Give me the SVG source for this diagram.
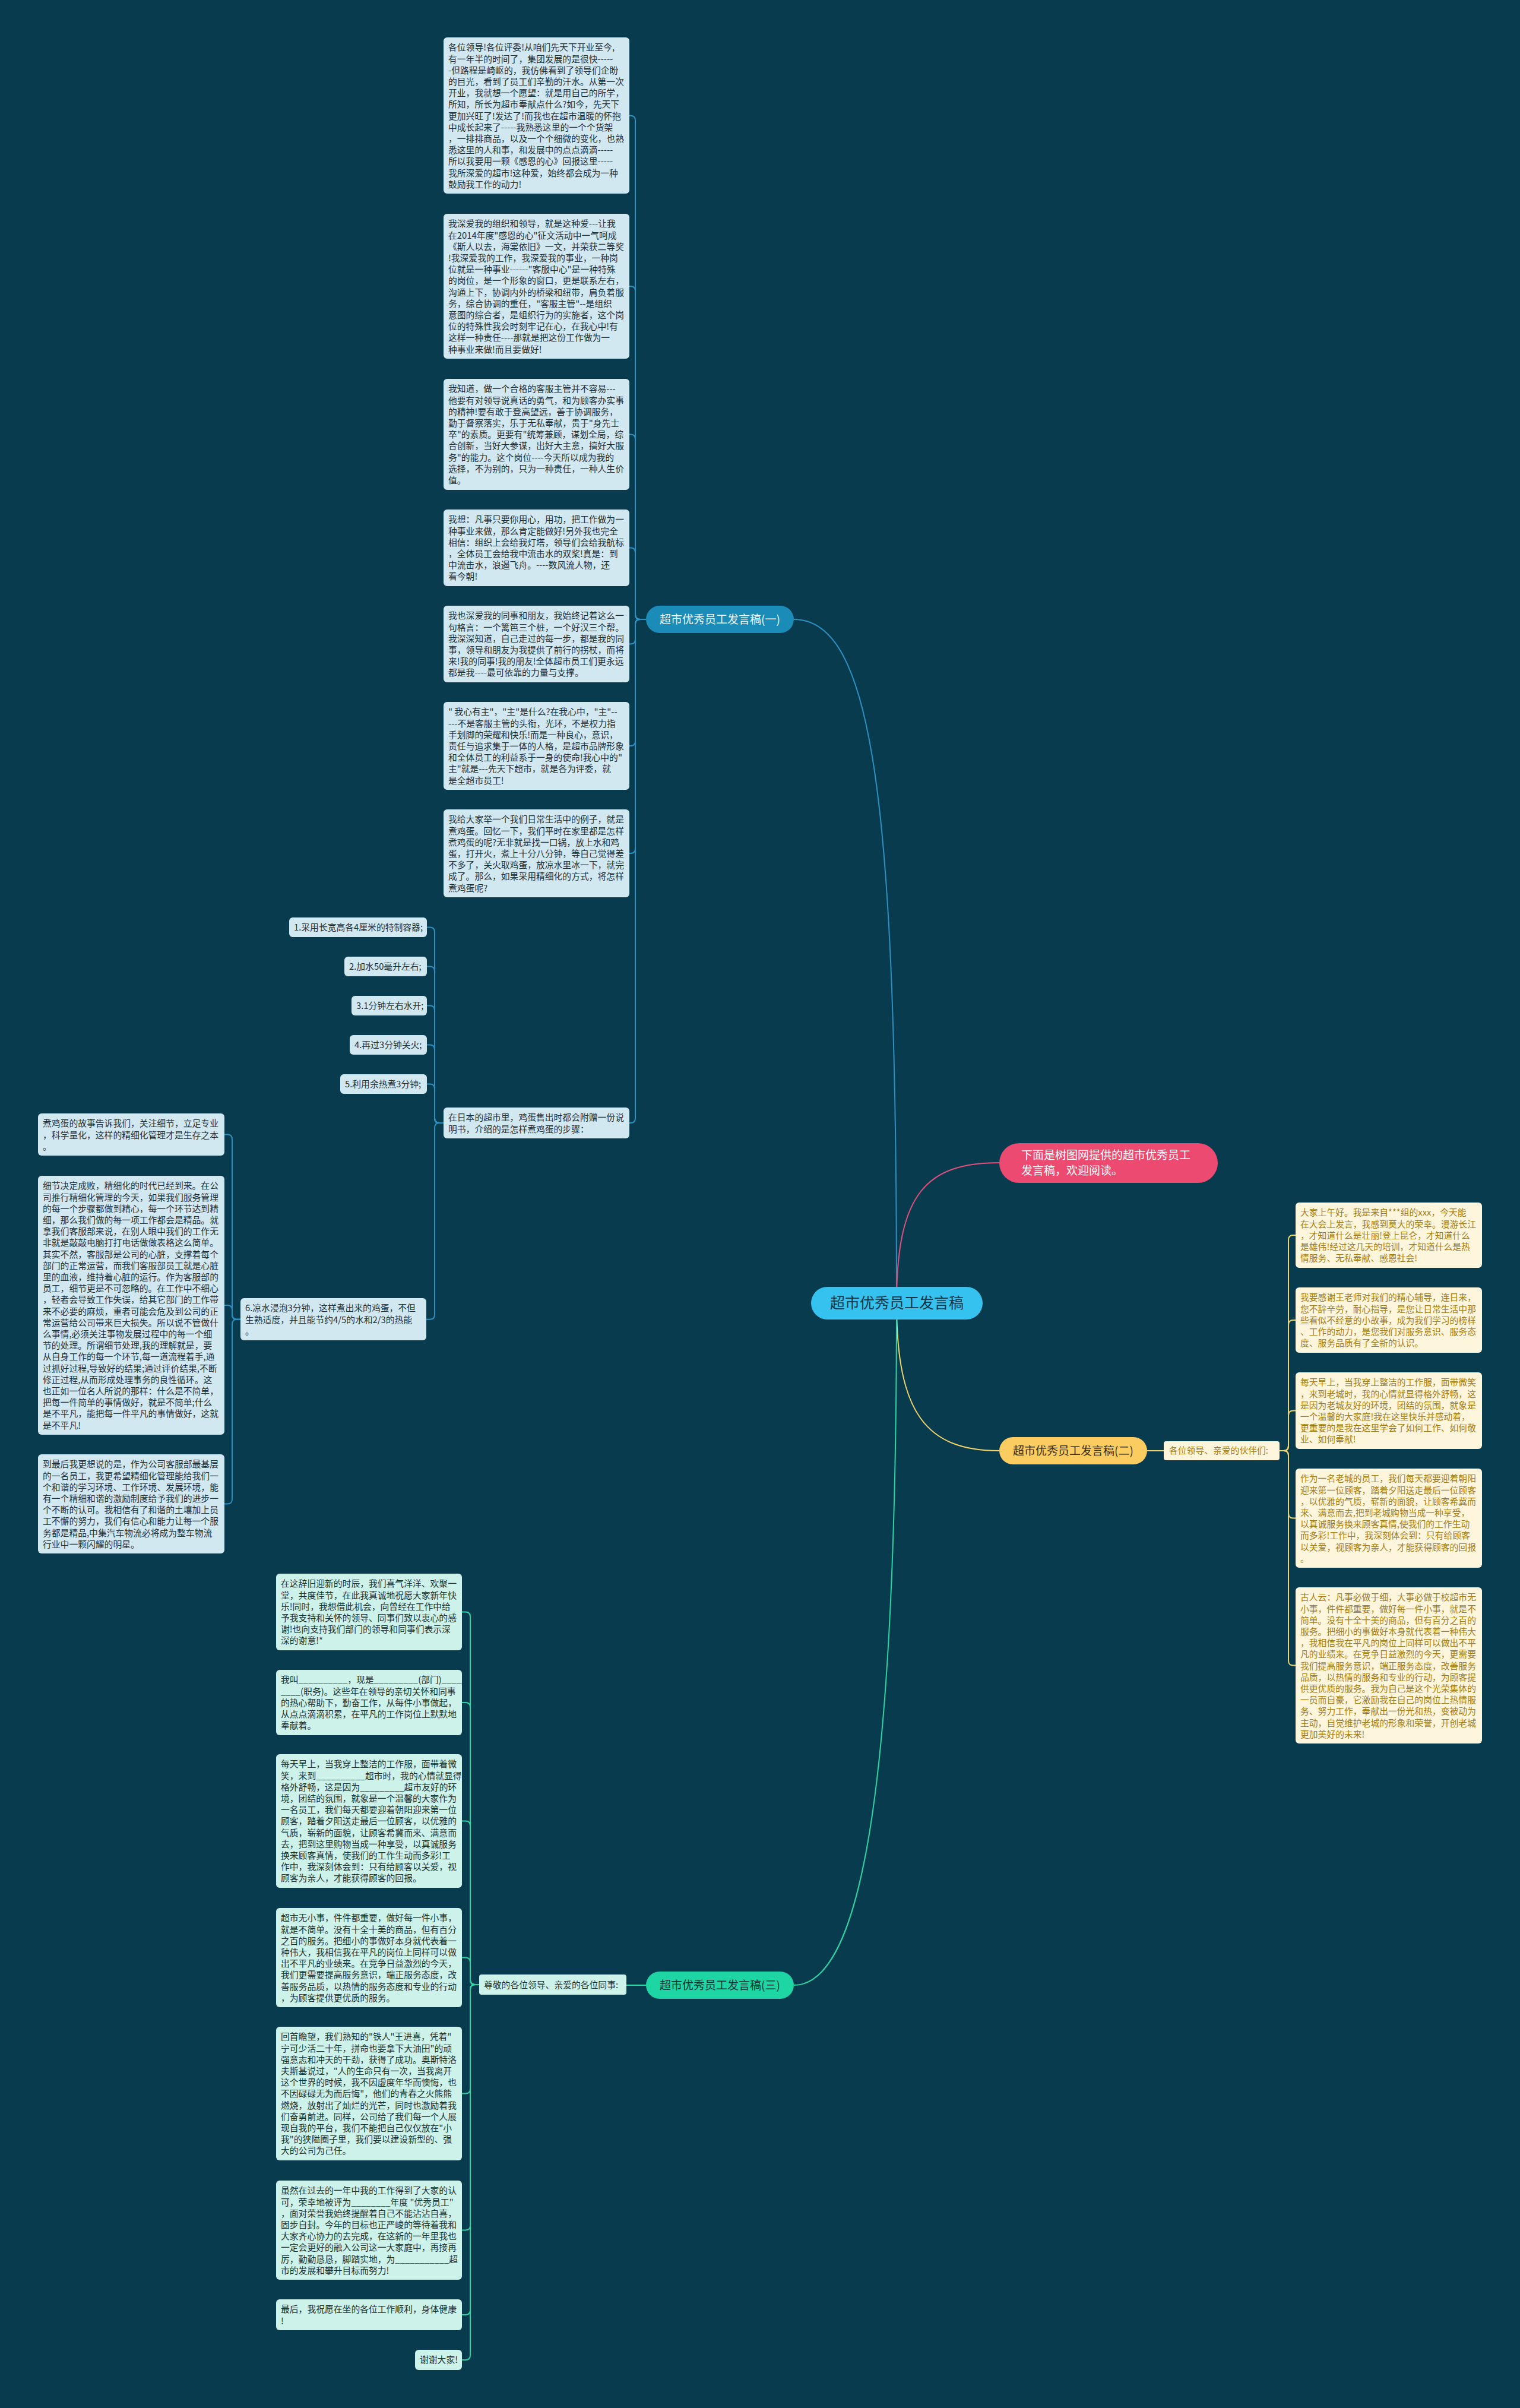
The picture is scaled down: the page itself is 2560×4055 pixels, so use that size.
<svg xmlns="http://www.w3.org/2000/svg" width="2560" height="4055" viewBox="0 0 2560 4055">
<style>
.t{font-family:"Noto Sans CJK SC","Noto Sans",sans-serif;font-size:14.8px}
.bb{fill:#d2e8f1}.by{fill:#fdf5dc}.bg{fill:#cdf2ea}
.tb{fill:#1f2f38}.ty{fill:#a67c15}.tg{fill:#1b3030}
.c{fill:none;stroke-width:2}
.cb{stroke:#2b90c2}.cy{stroke:#efd36b}.cg{stroke:#2ed3a4}.cp{stroke:#e0507a}
.lab{font-family:"Noto Sans CJK SC","Noto Sans",sans-serif;font-size:19px}
</style>
<rect width="2560" height="4055" fill="#093b4f"/>
<g id="connectors">
<path class="c cb" d="M1510 2194C1510 1350 1470 1043 1337 1043"/>
<path class="c cp" d="M1510 2194C1510 2010 1560 1958 1683 1958"/>
<path class="c cy" d="M1510 2194C1510 2380 1560 2443 1683 2443"/>
<path class="c cg" d="M1510 2194C1510 2950 1460 3343 1337 3343"/>
<path class="c cb" d="M1088 1043H1078Q1070 1043 1070 1035V202.7Q1070 194.7 1062 194.7H1060"/>
<path class="c cb" d="M1088 1043H1078Q1070 1043 1070 1035V490Q1070 482 1062 482H1060"/>
<path class="c cb" d="M1088 1043H1078Q1070 1043 1070 1035V739.5Q1070 731.5 1062 731.5H1060"/>
<path class="c cb" d="M1088 1043H1078Q1070 1043 1070 1035V930.5Q1070 922.5 1062 922.5H1060"/>
<path class="c cb" d="M1088 1043H1078Q1070 1043 1070 1051V1076.5Q1070 1084.5 1062 1084.5H1060"/>
<path class="c cb" d="M1088 1043H1078Q1070 1043 1070 1051V1248Q1070 1256 1062 1256H1060"/>
<path class="c cb" d="M1088 1043H1078Q1070 1043 1070 1051V1429Q1070 1437 1062 1437H1060"/>
<path class="c cb" d="M1088 1043H1078Q1070 1043 1070 1051V1883Q1070 1891 1062 1891H1060"/>
<path class="c cb" d="M747 1891H740Q732 1891 732 1883V1569.5Q732 1561.5 724 1561.5H719"/>
<path class="c cb" d="M747 1891H740Q732 1891 732 1883V1635.5Q732 1627.5 724 1627.5H719"/>
<path class="c cb" d="M747 1891H740Q732 1891 732 1883V1701.5Q732 1693.5 724 1693.5H719"/>
<path class="c cb" d="M747 1891H740Q732 1891 732 1883V1767.5Q732 1759.5 724 1759.5H719"/>
<path class="c cb" d="M747 1891H740Q732 1891 732 1883V1833.5Q732 1825.5 724 1825.5H719"/>
<path class="c cb" d="M747 1891H740Q732 1891 732 1899V2213.7Q732 2221.7 724 2221.7H718"/>
<path class="c cb" d="M405 2221.7H399Q391 2221.7 391 2213.7V1918.5Q391 1910.5 383 1910.5H378"/>
<path class="c cb" d="M405 2221.7H399Q391 2221.7 391 2213.7V2206Q391 2198 383 2198H378"/>
<path class="c cb" d="M405 2221.7H399Q391 2221.7 391 2229.7V2524.5Q391 2532.5 383 2532.5H378"/>
<path class="c cy" d="M1932 2443H1960"/>
<path class="c cy" d="M2155 2443H2162Q2170 2443 2170 2435V2088Q2170 2080 2178 2080H2182"/>
<path class="c cy" d="M2155 2443H2162Q2170 2443 2170 2435V2231Q2170 2223 2178 2223H2182"/>
<path class="c cy" d="M2155 2443H2162Q2170 2443 2170 2435V2383.5Q2170 2375.5 2178 2375.5H2182"/>
<path class="c cy" d="M2155 2443H2162Q2170 2443 2170 2451V2548.5Q2170 2556.5 2178 2556.5H2182"/>
<path class="c cy" d="M2155 2443H2162Q2170 2443 2170 2451V2796.5Q2170 2804.5 2178 2804.5H2182"/>
<path class="c cg" d="M1088 3343H1055"/>
<path class="c cg" d="M807 3342H800Q792 3342 792 3334V2722.5Q792 2714.5 784 2714.5H778"/>
<path class="c cg" d="M807 3342H800Q792 3342 792 3334V2875Q792 2867 784 2867H778"/>
<path class="c cg" d="M807 3342H800Q792 3342 792 3334V3074.5Q792 3066.5 784 3066.5H778"/>
<path class="c cg" d="M807 3342H800Q792 3342 792 3334V3304.5Q792 3296.5 784 3296.5H778"/>
<path class="c cg" d="M807 3342H800Q792 3342 792 3350V3517.5Q792 3525.5 784 3525.5H778"/>
<path class="c cg" d="M807 3342H800Q792 3342 792 3350V3747.5Q792 3755.5 784 3755.5H778"/>
<path class="c cg" d="M807 3342H800Q792 3342 792 3350V3890Q792 3898 784 3898H778"/>
<path class="c cg" d="M807 3342H800Q792 3342 792 3350V3966Q792 3974 784 3974H778"/>
</g>
<g id="root"><rect x="1366" y="2167" width="289" height="55" rx="27.5" fill="#35c2ee"/><text class="lab" x="1510.5" y="2203" text-anchor="middle" style="font-size:25px" fill="#163647">超市优秀员工发言稿</text></g>
<g id="intro"><rect x="1683" y="1925" width="368" height="67" rx="33.5" fill="#ec4a70"/><text class="lab" x="1720" y="1951.5" fill="#ffffff"><tspan x="1720" dy="0">下面是树图网提供的超市优秀员工</tspan><tspan x="1720" dy="26">发言稿，欢迎阅读。</tspan></text></g>
<g id="branch1"><rect x="1088" y="1020" width="249" height="46" rx="23" fill="#1b8bb8"/><text class="lab" x="1212.5" y="1049.5" text-anchor="middle" fill="#eef7fb">超市优秀员工发言稿(一)</text></g>
<g id="branch2"><rect x="1683" y="2420" width="249" height="46" rx="23" fill="#fbcd60"/><text class="lab" x="1807.5" y="2449.5" text-anchor="middle" fill="#3b2f0a">超市优秀员工发言稿(二)</text></g>
<g id="branch3"><rect x="1088" y="3320" width="249" height="46" rx="23" fill="#1ed6a3"/><text class="lab" x="1212.5" y="3349.5" text-anchor="middle" fill="#0d3535">超市优秀员工发言稿(三)</text></g>
<g id="sub2"><rect x="1960" y="2427" width="195" height="32" rx="4" class="by"/><text class="t ty" x="1969" y="2448">各位领导、亲爱的伙伴们:</text></g>
<g id="sub3"><rect x="807" y="3325" width="248" height="34" rx="4" class="bg"/><text class="t tg" x="815" y="3347.5">尊敬的各位领导、亲爱的各位同事:</text></g>
<g id="b1"><rect x="747" y="63" width="313" height="263" rx="6" class="bb"/><text class="t tb" x="755" y="85.3"><tspan x="755" dy="0">各位领导!各位评委!从咱们先天下开业至今,</tspan><tspan x="755" dy="19.2">有一年半的时间了，集团发展的是很快-----</tspan><tspan x="755" dy="19.2">-但路程是崎岖的，我仿佛看到了领导们企盼</tspan><tspan x="755" dy="19.2">的目光，看到了员工们辛勤的汗水。从第一次</tspan><tspan x="755" dy="19.2">开业，我就想一个愿望：就是用自己的所学，</tspan><tspan x="755" dy="19.2">所知，所长为超市奉献点什么?如今，先天下</tspan><tspan x="755" dy="19.2">更加兴旺了!发达了!而我也在超市温暖的怀抱</tspan><tspan x="755" dy="19.2">中成长起来了-----我熟悉这里的一个个货架</tspan><tspan x="755" dy="19.2">，一排排商品，以及一个个细微的变化，也熟</tspan><tspan x="755" dy="19.2">悉这里的人和事，和发展中的点点滴滴-----</tspan><tspan x="755" dy="19.2">所以我要用一颗《感恩的心》回报这里-----</tspan><tspan x="755" dy="19.2">我所深爱的超市!这种爱，始终都会成为一种</tspan><tspan x="755" dy="19.2">鼓励我工作的动力!</tspan></text></g>
<g id="b2"><rect x="747" y="360" width="313" height="244" rx="6" class="bb"/><text class="t tb" x="755" y="382.3"><tspan x="755" dy="0">我深爱我的组织和领导，就是这种爱---让我</tspan><tspan x="755" dy="19.2">在2014年度"感恩的心"征文活动中一气呵成</tspan><tspan x="755" dy="19.2">《斯人以去，海棠依旧》一文，并荣获二等奖</tspan><tspan x="755" dy="19.2">!我深爱我的工作，我深爱我的事业，一种岗</tspan><tspan x="755" dy="19.2">位就是一种事业------"客服中心"是一种特殊</tspan><tspan x="755" dy="19.2">的岗位，是一个形象的窗口，更是联系左右，</tspan><tspan x="755" dy="19.2">沟通上下，协调内外的桥梁和纽带，肩负着服</tspan><tspan x="755" dy="19.2">务，综合协调的重任，"客服主管"--是组织</tspan><tspan x="755" dy="19.2">意图的综合者，是组织行为的实施者，这个岗</tspan><tspan x="755" dy="19.2">位的特殊性我会时刻牢记在心，在我心中!有</tspan><tspan x="755" dy="19.2">这样一种责任----那就是把这份工作做为一</tspan><tspan x="755" dy="19.2">种事业来做!而且要做好!</tspan></text></g>
<g id="b3"><rect x="747" y="638" width="313" height="187" rx="6" class="bb"/><text class="t tb" x="755" y="660.3"><tspan x="755" dy="0">我知道，做一个合格的客服主管并不容易---</tspan><tspan x="755" dy="19.2">他要有对领导说真话的勇气，和为顾客办实事</tspan><tspan x="755" dy="19.2">的精神!要有敢于登高望远，善于协调服务，</tspan><tspan x="755" dy="19.2">勤于督察落实，乐于无私奉献，贵于"身先士</tspan><tspan x="755" dy="19.2">卒"的素质。更要有"统筹兼顾，谋划全局，综</tspan><tspan x="755" dy="19.2">合创新，当好大参谋，出好大主意，搞好大服</tspan><tspan x="755" dy="19.2">务"的能力。这个岗位----今天所以成为我的</tspan><tspan x="755" dy="19.2">选择，不为别的，只为一种责任，一种人生价</tspan><tspan x="755" dy="19.2">值。</tspan></text></g>
<g id="b4"><rect x="747" y="858" width="313" height="129" rx="6" class="bb"/><text class="t tb" x="755" y="880.3"><tspan x="755" dy="0">我想：凡事只要你用心，用功，把工作做为一</tspan><tspan x="755" dy="19.2">种事业来做，那么肯定能做好!另外我也完全</tspan><tspan x="755" dy="19.2">相信：组织上会给我灯塔，领导们会给我航标</tspan><tspan x="755" dy="19.2">，全体员工会给我中流击水的双桨!真是：到</tspan><tspan x="755" dy="19.2">中流击水，浪遏飞舟。----数风流人物，还</tspan><tspan x="755" dy="19.2">看今朝!</tspan></text></g>
<g id="b5"><rect x="747" y="1020" width="313" height="129" rx="6" class="bb"/><text class="t tb" x="755" y="1042.3"><tspan x="755" dy="0">我也深爱我的同事和朋友，我始终记着这么一</tspan><tspan x="755" dy="19.2">句格言：一个篱笆三个桩，一个好汉三个帮。</tspan><tspan x="755" dy="19.2">我深深知道，自己走过的每一步，都是我的同</tspan><tspan x="755" dy="19.2">事，领导和朋友为我提供了前行的拐杖，而将</tspan><tspan x="755" dy="19.2">来!我的同事!我的朋友!全体超市员工们更永远</tspan><tspan x="755" dy="19.2">都是我----最可依靠的力量与支撑。</tspan></text></g>
<g id="b6"><rect x="747" y="1182" width="313" height="148" rx="6" class="bb"/><text class="t tb" x="755" y="1204.3"><tspan x="755" dy="0">" 我心有主"，"主"是什么?在我心中，"主"--</tspan><tspan x="755" dy="19.2">---不是客服主管的头衔，光环，不是权力指</tspan><tspan x="755" dy="19.2">手划脚的荣耀和快乐!而是一种良心，意识，</tspan><tspan x="755" dy="19.2">责任与追求集于一体的人格，是超市品牌形象</tspan><tspan x="755" dy="19.2">和全体员工的利益系于一身的使命!我心中的"</tspan><tspan x="755" dy="19.2">主"就是---先天下超市，就是各为评委，就</tspan><tspan x="755" dy="19.2">是全超市员工!</tspan></text></g>
<g id="b7"><rect x="747" y="1363" width="313" height="148" rx="6" class="bb"/><text class="t tb" x="755" y="1385.3"><tspan x="755" dy="0">我给大家举一个我们日常生活中的例子，就是</tspan><tspan x="755" dy="19.2">煮鸡蛋。回忆一下，我们平时在家里都是怎样</tspan><tspan x="755" dy="19.2">煮鸡蛋的呢?无非就是找一口锅，放上水和鸡</tspan><tspan x="755" dy="19.2">蛋，打开火，煮上十分八分钟，等自己觉得差</tspan><tspan x="755" dy="19.2">不多了，关火取鸡蛋，放凉水里冰一下，就完</tspan><tspan x="755" dy="19.2">成了。那么，如果采用精细化的方式，将怎样</tspan><tspan x="755" dy="19.2">煮鸡蛋呢?</tspan></text></g>
<g id="b8"><rect x="747" y="1865" width="313" height="52" rx="6" class="bb"/><text class="t tb" x="755" y="1887.3"><tspan x="755" dy="0">在日本的超市里，鸡蛋售出时都会附赠一份说</tspan><tspan x="755" dy="19.2">明书，介绍的是怎样煮鸡蛋的步骤：</tspan></text></g>
<g id="s1"><rect x="487" y="1545" width="232" height="33" rx="6" class="bb"/><text class="t tb" x="495" y="1567.3">1.采用长宽高各4厘米的特制容器;</text></g>
<g id="s2"><rect x="580" y="1611" width="139" height="33" rx="6" class="bb"/><text class="t tb" x="588" y="1633.3">2.加水50毫升左右;</text></g>
<g id="s3"><rect x="592" y="1677" width="127" height="33" rx="6" class="bb"/><text class="t tb" x="600" y="1699.3">3.1分钟左右水开;</text></g>
<g id="s4"><rect x="589" y="1743" width="130" height="33" rx="6" class="bb"/><text class="t tb" x="597" y="1765.3">4.再过3分钟关火;</text></g>
<g id="s5"><rect x="573" y="1809" width="146" height="33" rx="6" class="bb"/><text class="t tb" x="581" y="1831.3">5.利用余热煮3分钟;</text></g>
<g id="s6"><rect x="405" y="2186" width="313" height="71" rx="6" class="bb"/><text class="t tb" x="413" y="2208.3"><tspan x="413" dy="0">6.凉水浸泡3分钟，这样煮出来的鸡蛋，不但</tspan><tspan x="413" dy="19.2">生熟适度，并且能节约4/5的水和2/3的热能</tspan><tspan x="413" dy="19.2">。</tspan></text></g>
<g id="l1"><rect x="64" y="1875" width="314" height="71" rx="6" class="bb"/><text class="t tb" x="72" y="1897.3"><tspan x="72" dy="0">煮鸡蛋的故事告诉我们，关注细节，立足专业</tspan><tspan x="72" dy="19.2">，科学量化，这样的精细化管理才是生存之本</tspan><tspan x="72" dy="19.2">。</tspan></text></g>
<g id="l2"><rect x="64" y="1980" width="314" height="436" rx="6" class="bb"/><text class="t tb" x="72" y="2002.3"><tspan x="72" dy="0">细节决定成败，精细化的时代已经到来。在公</tspan><tspan x="72" dy="19.2">司推行精细化管理的今天，如果我们服务管理</tspan><tspan x="72" dy="19.2">的每一个步骤都做到精心，每一个环节达到精</tspan><tspan x="72" dy="19.2">细，那么我们做的每一项工作都会是精品。就</tspan><tspan x="72" dy="19.2">拿我们客服部来说，在别人眼中我们的工作无</tspan><tspan x="72" dy="19.2">非就是敲敲电脑打打电话做做表格这么简单。</tspan><tspan x="72" dy="19.2">其实不然，客服部是公司的心脏，支撑着每个</tspan><tspan x="72" dy="19.2">部门的正常运营，而我们客服部员工就是心脏</tspan><tspan x="72" dy="19.2">里的血液，维持着心脏的运行。作为客服部的</tspan><tspan x="72" dy="19.2">员工，细节更是不可忽略的。在工作中不细心</tspan><tspan x="72" dy="19.2">，轻者会导致工作失误，给其它部门的工作带</tspan><tspan x="72" dy="19.2">来不必要的麻烦，重者可能会危及到公司的正</tspan><tspan x="72" dy="19.2">常运营给公司带来巨大损失。所以说不管做什</tspan><tspan x="72" dy="19.2">么事情,必须关注事物发展过程中的每一个细</tspan><tspan x="72" dy="19.2">节的处理。所谓细节处理,我的理解就是，要</tspan><tspan x="72" dy="19.2">从自身工作的每一个环节,每一道流程着手,通</tspan><tspan x="72" dy="19.2">过抓好过程,导致好的结果;通过评价结果,不断</tspan><tspan x="72" dy="19.2">修正过程,从而形成处理事务的良性循环。这</tspan><tspan x="72" dy="19.2">也正如一位名人所说的那样：什么是不简单，</tspan><tspan x="72" dy="19.2">把每一件简单的事情做好，就是不简单;什么</tspan><tspan x="72" dy="19.2">是不平凡，能把每一件平凡的事情做好，这就</tspan><tspan x="72" dy="19.2">是不平凡!</tspan></text></g>
<g id="l3"><rect x="64" y="2449" width="314" height="167" rx="6" class="bb"/><text class="t tb" x="72" y="2471.3"><tspan x="72" dy="0">到最后我更想说的是，作为公司客服部最基层</tspan><tspan x="72" dy="19.2">的一名员工，我更希望精细化管理能给我们一</tspan><tspan x="72" dy="19.2">个和谐的学习环境、工作环境、发展环境，能</tspan><tspan x="72" dy="19.2">有一个精细和谐的激励制度给予我们的进步一</tspan><tspan x="72" dy="19.2">个不断的认可。我相信有了和谐的土壤加上员</tspan><tspan x="72" dy="19.2">工不懈的努力，我们有信心和能力让每一个服</tspan><tspan x="72" dy="19.2">务都是精品,中集汽车物流必将成为整车物流</tspan><tspan x="72" dy="19.2">行业中一颗闪耀的明星。</tspan></text></g>
<g id="r1"><rect x="2182" y="2025" width="314" height="110" rx="6" class="by"/><text class="t ty" x="2190" y="2047.3"><tspan x="2190" dy="0">大家上午好。我是来自***组的xxx，今天能</tspan><tspan x="2190" dy="19.2">在大会上发言，我感到莫大的荣幸。漫游长江</tspan><tspan x="2190" dy="19.2">，才知道什么是壮丽!登上昆仑，才知道什么</tspan><tspan x="2190" dy="19.2">是雄伟!经过这几天的培训，才知道什么是热</tspan><tspan x="2190" dy="19.2">情服务、无私奉献、感恩社会!</tspan></text></g>
<g id="r2"><rect x="2182" y="2168" width="314" height="110" rx="6" class="by"/><text class="t ty" x="2190" y="2190.3"><tspan x="2190" dy="0">我要感谢王老师对我们的精心辅导，连日来，</tspan><tspan x="2190" dy="19.2">您不辞辛劳，耐心指导，是您让日常生活中那</tspan><tspan x="2190" dy="19.2">些看似不经意的小故事，成为我们学习的榜样</tspan><tspan x="2190" dy="19.2">、工作的动力，是您我们对服务意识、服务态</tspan><tspan x="2190" dy="19.2">度、服务品质有了全新的认识。</tspan></text></g>
<g id="r3"><rect x="2182" y="2311" width="314" height="129" rx="6" class="by"/><text class="t ty" x="2190" y="2333.3"><tspan x="2190" dy="0">每天早上，当我穿上整洁的工作服，面带微笑</tspan><tspan x="2190" dy="19.2">，来到老城时，我的心情就显得格外舒畅，这</tspan><tspan x="2190" dy="19.2">是因为老城友好的环境，团结的氛围，就象是</tspan><tspan x="2190" dy="19.2">一个温馨的大家庭!我在这里快乐并感动着，</tspan><tspan x="2190" dy="19.2">更重要的是我在这里学会了如何工作、如何敬</tspan><tspan x="2190" dy="19.2">业、如何奉献!</tspan></text></g>
<g id="r4"><rect x="2182" y="2473" width="314" height="167" rx="6" class="by"/><text class="t ty" x="2190" y="2495.3"><tspan x="2190" dy="0">作为一名老城的员工，我们每天都要迎着朝阳</tspan><tspan x="2190" dy="19.2">迎来第一位顾客，踏着夕阳送走最后一位顾客</tspan><tspan x="2190" dy="19.2">，以优雅的气质，崭新的面貌，让顾客希冀而</tspan><tspan x="2190" dy="19.2">来、满意而去,把到老城购物当成一种享受，</tspan><tspan x="2190" dy="19.2">以真诚服务换来顾客真情,使我们的工作生动</tspan><tspan x="2190" dy="19.2">而多彩!工作中，我深刻体会到：只有给顾客</tspan><tspan x="2190" dy="19.2">以关爱，视顾客为亲人，才能获得顾客的回报</tspan><tspan x="2190" dy="19.2">。</tspan></text></g>
<g id="r5"><rect x="2182" y="2673" width="314" height="263" rx="6" class="by"/><text class="t ty" x="2190" y="2695.3"><tspan x="2190" dy="0">古人云：凡事必做于细，大事必做于校超市无</tspan><tspan x="2190" dy="19.2">小事，件件都重要，做好每一件小事，就是不</tspan><tspan x="2190" dy="19.2">简单。没有十全十美的商品，但有百分之百的</tspan><tspan x="2190" dy="19.2">服务。把细小的事做好本身就代表着一种伟大</tspan><tspan x="2190" dy="19.2">，我相信我在平凡的岗位上同样可以做出不平</tspan><tspan x="2190" dy="19.2">凡的业绩来。在竞争日益激烈的今天，更需要</tspan><tspan x="2190" dy="19.2">我们提高服务意识，端正服务态度，改善服务</tspan><tspan x="2190" dy="19.2">品质，以热情的服务和专业的行动，为顾客提</tspan><tspan x="2190" dy="19.2">供更优质的服务。我为自己是这个光荣集体的</tspan><tspan x="2190" dy="19.2">一员而自豪，它激励我在自己的岗位上热情服</tspan><tspan x="2190" dy="19.2">务、努力工作，奉献出一份光和热，变被动为</tspan><tspan x="2190" dy="19.2">主动，自觉维护老城的形象和荣誉，开创老城</tspan><tspan x="2190" dy="19.2">更加美好的未来!</tspan></text></g>
<g id="g1"><rect x="465" y="2650" width="313" height="129" rx="6" class="bg"/><text class="t tg" x="473" y="2672.3"><tspan x="473" dy="0">在这辞旧迎新的时辰，我们喜气洋洋、欢聚一</tspan><tspan x="473" dy="19.2">堂，共度佳节，在此我真诚地祝愿大家新年快</tspan><tspan x="473" dy="19.2">乐!同时，我想借此机会，向曾经在工作中给</tspan><tspan x="473" dy="19.2">予我支持和关怀的领导、同事们致以衷心的感</tspan><tspan x="473" dy="19.2">谢!也向支持我们部门的领导和同事们表示深</tspan><tspan x="473" dy="19.2">深的谢意!*</tspan></text></g>
<g id="g2"><rect x="465" y="2812" width="313" height="110" rx="6" class="bg"/><text class="t tg" x="473" y="2834.3"><tspan x="473" dy="0">我叫__________，现是_________(部门)_____</tspan><tspan x="473" dy="19.2">____(职务)。这些年在领导的亲切关怀和同事</tspan><tspan x="473" dy="19.2">的热心帮助下，勤奋工作，从每件小事做起，</tspan><tspan x="473" dy="19.2">从点点滴滴积累，在平凡的工作岗位上默默地</tspan><tspan x="473" dy="19.2">奉献着。</tspan></text></g>
<g id="g3"><rect x="465" y="2954" width="313" height="225" rx="6" class="bg"/><text class="t tg" x="473" y="2976.3"><tspan x="473" dy="0">每天早上，当我穿上整洁的工作服，面带着微</tspan><tspan x="473" dy="19.2">笑，来到__________超市时，我的心情就显得</tspan><tspan x="473" dy="19.2">格外舒畅，这是因为_________超市友好的环</tspan><tspan x="473" dy="19.2">境，团结的氛围，就象是一个温馨的大家作为</tspan><tspan x="473" dy="19.2">一名员工，我们每天都要迎着朝阳迎来第一位</tspan><tspan x="473" dy="19.2">顾客，踏着夕阳送走最后一位顾客，以优雅的</tspan><tspan x="473" dy="19.2">气质，崭新的面貌，让顾客希冀而来、满意而</tspan><tspan x="473" dy="19.2">去，把到这里购物当成一种享受，以真诚服务</tspan><tspan x="473" dy="19.2">换来顾客真情，使我们的工作生动而多彩!工</tspan><tspan x="473" dy="19.2">作中，我深刻体会到：只有给顾客以关爱，视</tspan><tspan x="473" dy="19.2">顾客为亲人，才能获得顾客的回报。</tspan></text></g>
<g id="g4"><rect x="465" y="3213" width="313" height="167" rx="6" class="bg"/><text class="t tg" x="473" y="3235.3"><tspan x="473" dy="0">超市无小事，件件都重要，做好每一件小事，</tspan><tspan x="473" dy="19.2">就是不简单。没有十全十美的商品，但有百分</tspan><tspan x="473" dy="19.2">之百的服务。把细小的事做好本身就代表着一</tspan><tspan x="473" dy="19.2">种伟大，我相信我在平凡的岗位上同样可以做</tspan><tspan x="473" dy="19.2">出不平凡的业绩来。在竞争日益激烈的今天，</tspan><tspan x="473" dy="19.2">我们更需要提高服务意识，端正服务态度，改</tspan><tspan x="473" dy="19.2">善服务品质，以热情的服务态度和专业的行动</tspan><tspan x="473" dy="19.2">，为顾客提供更优质的服务。</tspan></text></g>
<g id="g5"><rect x="465" y="3413" width="313" height="225" rx="6" class="bg"/><text class="t tg" x="473" y="3435.3"><tspan x="473" dy="0">回首瞻望，我们熟知的"铁人"王进喜，凭着"</tspan><tspan x="473" dy="19.2">宁可少活二十年，拼命也要拿下大油田"的顽</tspan><tspan x="473" dy="19.2">强意志和冲天的干劲，获得了成功。奥斯特洛</tspan><tspan x="473" dy="19.2">夫斯基说过，"人的生命只有一次，当我离开</tspan><tspan x="473" dy="19.2">这个世界的时候，我不因虚度年华而懊悔，也</tspan><tspan x="473" dy="19.2">不因碌碌无为而后悔"，他们的青春之火熊熊</tspan><tspan x="473" dy="19.2">燃烧，放射出了灿烂的光芒，同时也激励着我</tspan><tspan x="473" dy="19.2">们奋勇前进。同样，公司给了我们每一个人展</tspan><tspan x="473" dy="19.2">现自我的平台，我们不能把自己仅仅放在"小</tspan><tspan x="473" dy="19.2">我"的狭隘圈子里，我们要以建设新型的、强</tspan><tspan x="473" dy="19.2">大的公司为己任。</tspan></text></g>
<g id="g6"><rect x="465" y="3672" width="313" height="167" rx="6" class="bg"/><text class="t tg" x="473" y="3694.3"><tspan x="473" dy="0">虽然在过去的一年中我的工作得到了大家的认</tspan><tspan x="473" dy="19.2">可，荣幸地被评为________年度 "优秀员工"</tspan><tspan x="473" dy="19.2">，面对荣誉我始终提醒着自己不能沾沾自喜，</tspan><tspan x="473" dy="19.2">固步自封。今年的目标也正严峻的等待着我和</tspan><tspan x="473" dy="19.2">大家齐心协力的去完成，在这新的一年里我也</tspan><tspan x="473" dy="19.2">一定会更好的融入公司这一大家庭中，再接再</tspan><tspan x="473" dy="19.2">厉，勤勤恳恳，脚踏实地，为___________超</tspan><tspan x="473" dy="19.2">市的发展和攀升目标而努力!</tspan></text></g>
<g id="g7"><rect x="465" y="3872" width="313" height="52" rx="6" class="bg"/><text class="t tg" x="473" y="3894.3"><tspan x="473" dy="0">最后，我祝愿在坐的各位工作顺利，身体健康</tspan><tspan x="473" dy="19.2">!</tspan></text></g>
<g id="g8"><rect x="699" y="3957" width="79" height="34" rx="6" class="bg"/><text class="t tg" x="707" y="3979.3">谢谢大家!</text></g>
</svg>
